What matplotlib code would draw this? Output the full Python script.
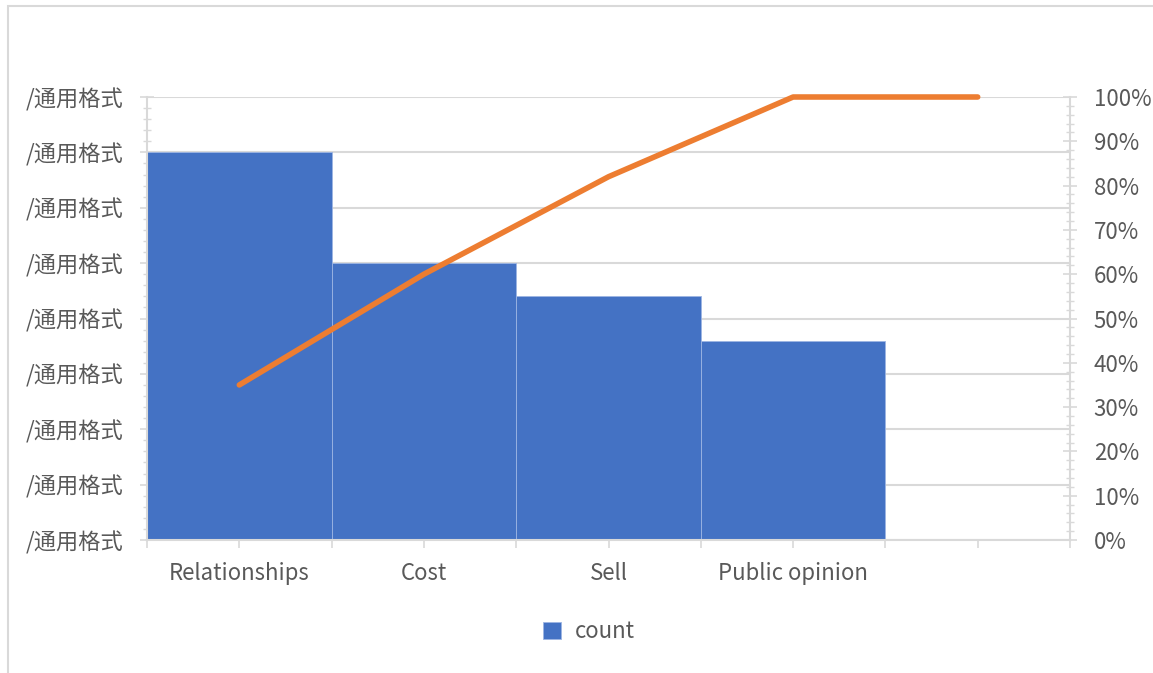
import matplotlib.pyplot as plt
import numpy as np
from matplotlib.patches import Rectangle

plt.rcParams['font.family'] = ['Noto Sans CJK SC', 'DejaVu Sans']

# data
categories = ['Relationships', 'Cost', 'Sell', 'Public opinion', '']
counts = [35, 25, 22, 18]
cum_pct = [35, 60, 82, 100, 100]
left_ticks = [0, 5, 10, 15, 20, 25, 30, 35, 40]
left_tick_label = '/通用格式'
right_ticks = [0, 10, 20, 30, 40, 50, 60, 70, 80, 90, 100]

bar_color = '#4472C4'
line_color = '#ED7D31'
grid_color = '#D9D9D9'
text_color = '#595959'
fs = 16

fig = plt.figure(figsize=(11.53, 6.73), dpi=100, facecolor='white')
# thin chart border (left and top visible)
fig.patches.append(Rectangle((8 / 1153, -0.05), 1.2, 1 - 6 / 673 + 0.05,
                             transform=fig.transFigure, fill=False,
                             edgecolor='#D9D9D9', linewidth=1.5))

ax = fig.add_axes([147 / 1153, 1 - 540 / 673, 923 / 1153, 443 / 673])
x = np.arange(len(counts)) + 0.5
ax.bar(x, counts, width=1.0, color=bar_color, edgecolor='#9DB5E3',
       linewidth=0.6, label='count', zorder=2)
ax.set_xlim(0, len(categories))
ax.set_ylim(0, 40)
ax.set_yticks(left_ticks)
ax.set_yticklabels([left_tick_label] * len(left_ticks))
ax.set_yticks(np.arange(0, 41, 1), minor=True)
ax.yaxis.grid(True, color=grid_color, linewidth=1.5, zorder=0)
ax.set_axisbelow(True)

# labels at slot centres, extra ticks at slot boundaries
ax.set_xticks(np.arange(len(categories)) + 0.5)
ax.set_xticklabels(categories)
ax.set_xticks(np.arange(0, len(categories) + 1), minor=True)
ax.tick_params(axis='x', which='both', direction='out', length=6,
               color=grid_color, width=1.2)
ax.tick_params(axis='x', which='major', pad=10,
               labelsize=fs, labelcolor=text_color)
ax.tick_params(axis='y', which='major', direction='inout', length=10,
               color=grid_color, width=1.2, pad=12,
               labelsize=fs, labelcolor=text_color)
ax.tick_params(axis='y', which='minor', direction='inout', length=6,
               color=grid_color, width=1.0)
for s in ['top', 'right']:
    ax.spines[s].set_visible(False)
for s in ['left', 'bottom']:
    ax.spines[s].set_color(grid_color)
    ax.spines[s].set_linewidth(1.5)

ax2 = ax.twinx()
ax2.plot(np.arange(len(cum_pct)) + 0.5, cum_pct, color=line_color,
         linewidth=4.0, solid_capstyle='round', solid_joinstyle='round',
         zorder=3, clip_on=False)
ax2.set_ylim(0, 100)
ax2.set_yticks(right_ticks)
ax2.set_yticklabels([f'{v}%' for v in right_ticks])
ax2.set_yticks(np.arange(0, 101, 2), minor=True)
ax2.tick_params(axis='y', which='major', direction='inout', length=10,
                color=grid_color, width=1.2, pad=12,
                labelsize=fs, labelcolor=text_color)
ax2.tick_params(axis='y', which='minor', direction='inout', length=6,
                color=grid_color, width=1.0)
for s in ['top', 'left', 'bottom']:
    ax2.spines[s].set_visible(False)
ax2.spines['right'].set_color(grid_color)
ax2.spines['right'].set_linewidth(1.5)

handles, labels = ax.get_legend_handles_labels()
leg = fig.legend(handles, labels, loc='center',
                 bbox_to_anchor=(589 / 1153, 1 - 632 / 673),
                 frameon=False, fontsize=fs, handlelength=0.8,
                 handleheight=0.8, handletextpad=0.6)
for t in leg.get_texts():
    t.set_color(text_color)

fig.savefig('out.png', dpi=100, facecolor='white')
